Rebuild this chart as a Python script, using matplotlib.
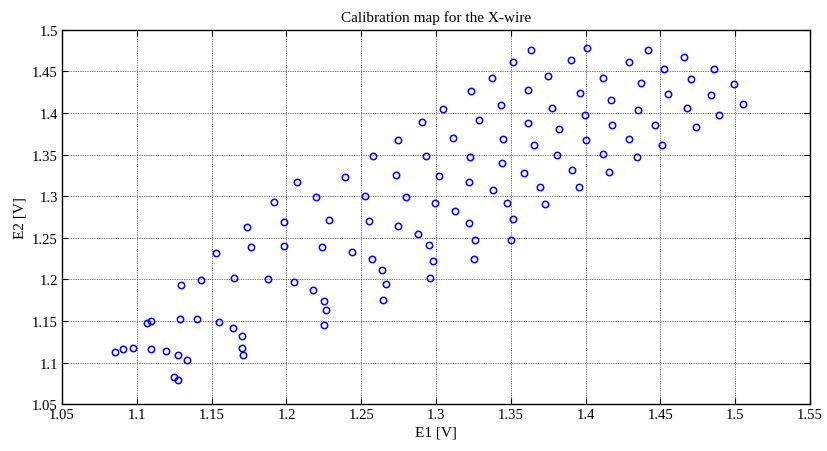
import numpy as np
import matplotlib
matplotlib.use("Agg")
import matplotlib.pyplot as plt

# Calibration points: anemometer voltages of the two wires
e1 = [1.3045, 1.2908, 1.2744, 1.2579, 1.2933, 1.2071, 1.2390, 1.2733, 1.3020, 1.1917,
      1.2198, 1.2527, 1.2800, 1.2995, 1.1984, 1.2287, 1.2554, 1.2744, 1.2882, 1.1763,
      1.1984, 1.2238, 1.2439, 1.2951, 1.2570, 1.2978, 1.2639, 1.1879, 1.2962, 1.2049,
      1.2668, 1.2176, 1.2249, 1.2644, 1.2267, 1.2249, 1.1735, 1.1531, 1.1295, 1.1431,
      1.1650, 1.1068, 1.1095, 1.1291, 1.1404, 1.1549, 1.1641, 1.1701, 1.1701, 1.1710,
      1.0856, 1.0906, 1.0975, 1.1095, 1.1193, 1.1277, 1.1336, 1.1247, 1.1277, 1.3221,
      1.3263, 1.3499, 1.3256, 1.3635, 1.4011, 1.3517, 1.3900, 1.4290, 1.3376, 1.3751,
      1.4118, 1.4368, 1.3234, 1.3617, 1.3961, 1.4172, 1.3432, 1.3778, 1.4350, 1.3996,
      1.3289, 1.3613, 1.4174, 1.3824, 1.3112, 1.3446, 1.4005, 1.4290, 1.3657, 1.3227,
      1.3811, 1.4116, 1.4344, 1.3443, 1.3909, 1.3588, 1.4158, 1.3221, 1.3697, 1.3956,
      1.3381, 1.3475, 1.3729, 1.3127, 1.3517, 1.4419, 1.4658, 1.4522, 1.4858, 1.4707,
      1.4990, 1.4549, 1.4836, 1.5052, 1.4676, 1.4894, 1.4466, 1.4736, 1.4513]
e2 = [1.4047, 1.3895, 1.3675, 1.3479, 1.3486, 1.3167, 1.3234, 1.3258, 1.3242, 1.2926,
      1.2987, 1.3002, 1.2987, 1.2918, 1.2693, 1.2717, 1.2702, 1.2642, 1.2546, 1.2386,
      1.2405, 1.2386, 1.2326, 1.2413, 1.2242, 1.2218, 1.2110, 1.2005, 1.2013, 1.1965,
      1.1945, 1.1873, 1.1744, 1.1753, 1.1633, 1.1452, 1.2626, 1.2317, 1.1937, 1.1989,
      1.2013, 1.1473, 1.1500, 1.1524, 1.1524, 1.1488, 1.1413, 1.1320, 1.1180, 1.1092,
      1.1132, 1.1160, 1.1176, 1.1160, 1.1140, 1.1092, 1.1032, 1.0828, 1.0792, 1.2674,
      1.2477, 1.2470, 1.2249, 1.4753, 1.4777, 1.4612, 1.4640, 1.4616, 1.4423, 1.4444,
      1.4423, 1.4356, 1.4260, 1.4276, 1.4243, 1.4155, 1.4092, 1.4056, 1.4032, 1.3979,
      1.3912, 1.3879, 1.3855, 1.3807, 1.3699, 1.3683, 1.3675, 1.3691, 1.3615, 1.3471,
      1.3495, 1.3507, 1.3471, 1.3402, 1.3318, 1.3278, 1.3294, 1.3174, 1.3114, 1.3114,
      1.3074, 1.2918, 1.2910, 1.2818, 1.2726, 1.4753, 1.4668, 1.4531, 1.4531, 1.4404,
      1.4344, 1.4228, 1.4212, 1.4107, 1.4056, 1.3972, 1.3855, 1.3827, 1.3615]

x_ticks = [1.05, 1.1, 1.15, 1.2, 1.25, 1.3, 1.35, 1.4, 1.45, 1.5, 1.55]
y_ticks = [1.05, 1.1, 1.15, 1.2, 1.25, 1.3, 1.35, 1.4, 1.45, 1.5]

plt.rcParams['font.family'] = ['Liberation Serif', 'DejaVu Serif']
plt.rcParams['font.size'] = 10

fig = plt.figure(figsize=(8.28, 4.52), dpi=100)
ax = fig.add_axes([0.0749, 0.1033, 0.9034, 0.8288])

ax.plot(e1, e2, 'o', linestyle='none', markerfacecolor='none',
        markeredgecolor='#0000ff', markeredgewidth=1.1, markersize=4.6)

ax.set_xlim(1.05, 1.55)
ax.set_ylim(1.05, 1.5)
ax.set_xticks(x_ticks)
ax.set_xticklabels([f"{t:g}" for t in x_ticks])
ax.set_yticks(y_ticks)
ax.set_yticklabels([f"{t:g}" for t in y_ticks])

ax.grid(True, color='black', linestyle=(0, (1, 1.5)), linewidth=0.5)
ax.tick_params(direction='in', top=True, right=True, length=4, width=0.8, pad=3,
               labelsize=10.5)
for s in ax.spines.values():
    s.set_linewidth(1.0)

ax.set_title('Calibration map for the X-wire', fontsize=11, pad=6)
ax.set_xlabel('E1 [V]', fontsize=11, labelpad=3)
ax.set_ylabel('E2 [V]', fontsize=11, labelpad=4)

fig.savefig('out.png', dpi=100)
